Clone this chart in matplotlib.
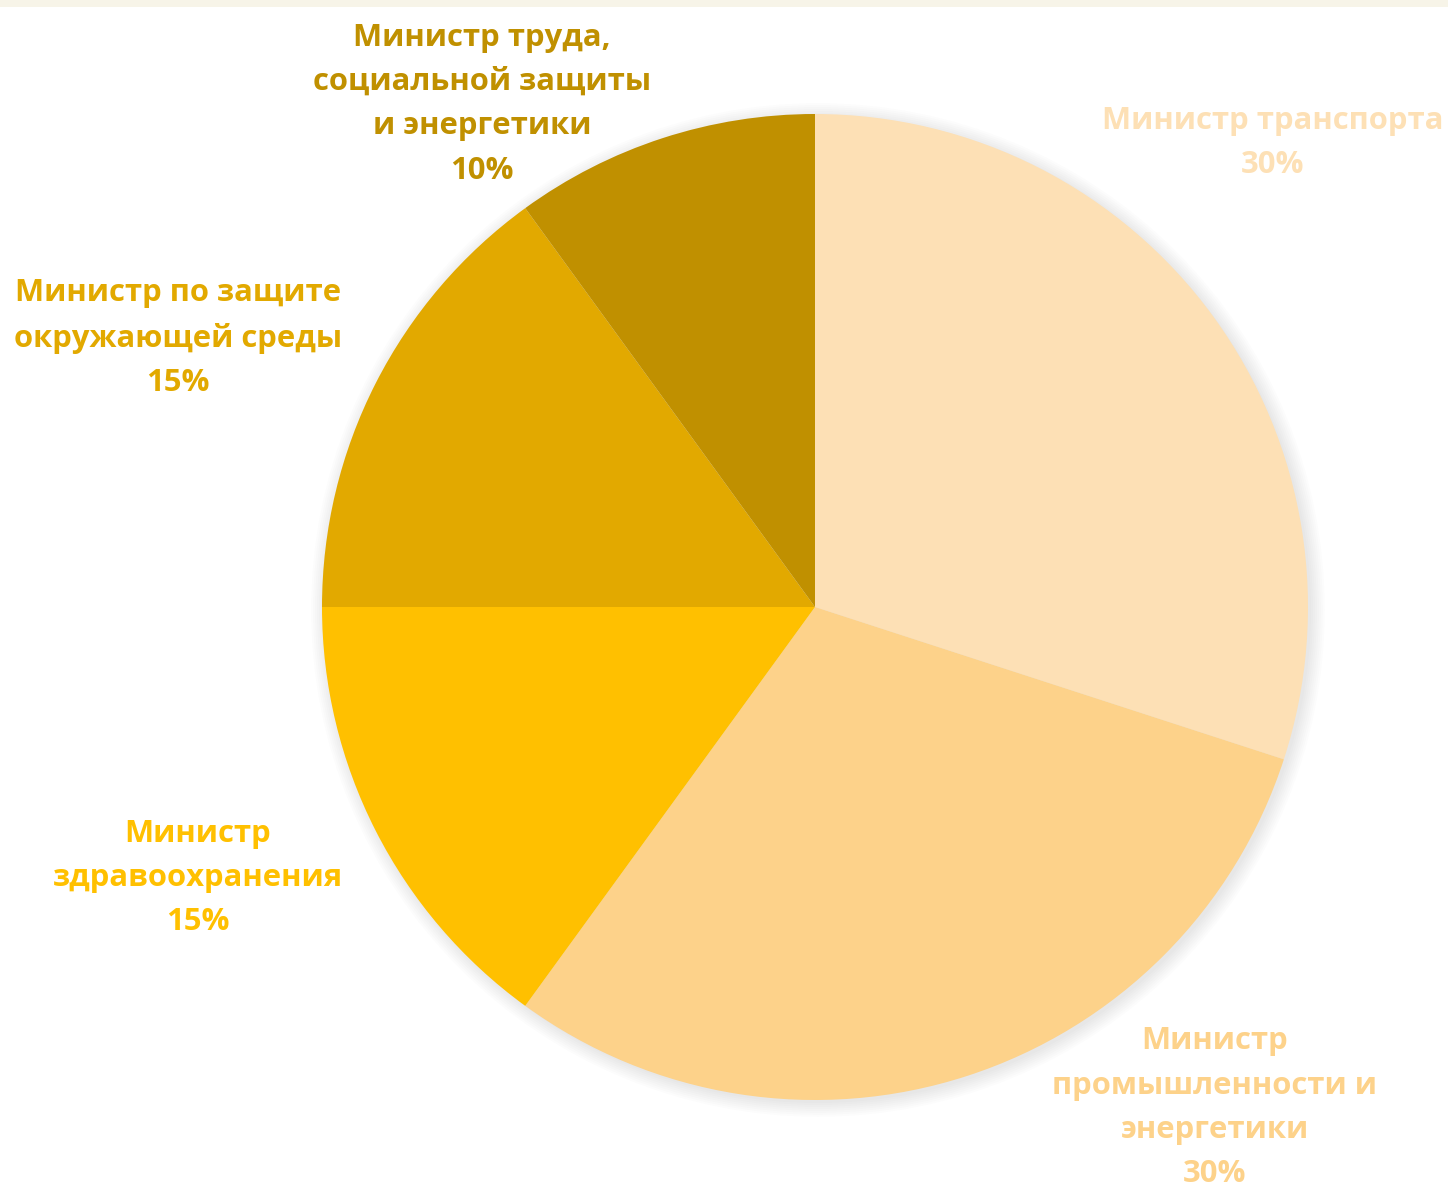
import matplotlib
matplotlib.use("Agg")
import matplotlib.pyplot as plt
from matplotlib.patches import Circle, Rectangle

categories = [
    "Министр транспорта",
    "Министр\nпромышленности и\nэнергетики",
    "Министр\nздравоохранения",
    "Министр по защите\nокружающей среды",
    "Министр труда,\nсоциальной защиты\nи энергетики",
]
values = [30, 30, 15, 15, 10]
colors = ["#FDE0B5", "#FDD28A", "#FFC000", "#E2A900", "#C09000"]
label_pos = [(0.929, 0.941), (0.811, -1.016), (-1.252, -0.550), (-1.292, 0.546), (-0.675, 1.020)]

W, H = 1448, 1189
fig = plt.figure(figsize=(W / 100, H / 100), dpi=100)
fig.patch.set_facecolor("white")
fig.patches.append(Rectangle((0, 1 - 7 / H), 1, 7 / H, transform=fig.transFigure,
                             facecolor="#F7F4E8", edgecolor="none"))

cx, cy, r = 815, 607, 493
ax = fig.add_axes([(cx - r) / W, (H - cy - r) / H, 2 * r / W, 2 * r / H])
ax.set_xlim(-1, 1)
ax.set_ylim(-1, 1)
ax.set_aspect("equal")
ax.axis("off")

# soft shadow
for k in range(8):
    ax.add_patch(Circle((0.006, -0.006), 1.0 + 0.004 * k, facecolor="#808080",
                        alpha=0.025, edgecolor="none", zorder=0, clip_on=False))

wedges, _ = ax.pie(values, colors=colors, startangle=90, counterclock=False, radius=1.0,
                   wedgeprops=dict(edgecolor="none", linewidth=0))
for w in wedges:
    w.set_clip_on(False)
ax.set_xlim(-1, 1)
ax.set_ylim(-1, 1)

for name, v, c, (x, y) in zip(categories, values, colors, label_pos):
    ax.text(x, y, f"{name}\n{v}%", ha="center", va="center", color=c,
            fontsize=22.3, fontweight="bold", family=["Open Sans", "DejaVu Sans"],
            linespacing=1.62, clip_on=False)

fig.savefig("out.png", dpi=100, facecolor="white")
